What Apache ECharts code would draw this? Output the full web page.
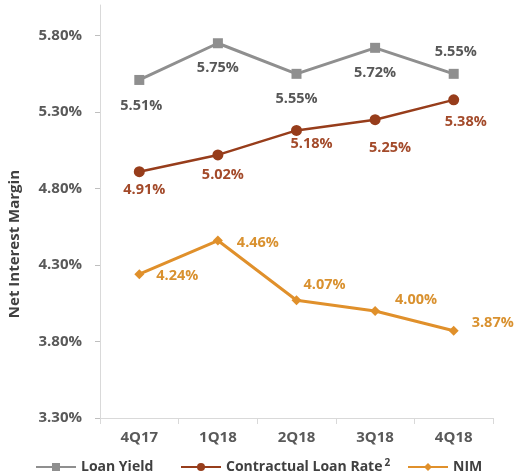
<!DOCTYPE html>
<html><head><meta charset="utf-8">
<script src="https://cdn.jsdelivr.net/npm/echarts@6/dist/echarts.min.js"></script>
<style>html,body{margin:0;padding:0;background:#fff}#c{width:514px;height:476px}</style>
</head><body><div id="c"></div>
<script>
var categories = ['4Q17', '1Q18', '2Q18', '3Q18', '4Q18'];
var loanYield = [5.51, 5.75, 5.55, 5.72, 5.55];
var contractualRate = [4.91, 5.02, 5.18, 5.25, 5.38];
var nim = [4.24, 4.46, 4.07, 4.00, 3.87];
var yTicks = [3.30, 3.80, 4.30, 4.80, 5.30, 5.80];
var seriesNames = ['Loan Yield', 'Contractual Loan Rate', 'NIM'];
var legendSup = ['\u00a0', '2', '\u00a0'];

var FONT = '"Open Sans", "Liberation Sans", sans-serif';
var lyOff = [[2,26],[0,25],[0,25],[0,25],[2,-22]];
var crOff = [[5,18],[5,20],[15,13],[15,28],[12,22]];
var nimOff = [[38,2],[40,2],[28,-15],[41,-11],[39,-8]];
var legendLefts = [35, 180, 407];

function build(vals, offs) {
  return vals.map(function (v, i) {
    return { value: v, label: { offset: offs[i] } };
  });
}
function fmt(p) { return p.value.toFixed(2) + '%'; }

var legendText = {
  rich: {
    t: { fontFamily: FONT, fontWeight: 'bold', fontSize: 14, color: '#404040', lineHeight: 18 },
    s: { fontFamily: FONT, fontWeight: 'bold', fontSize: 10, color: '#404040', verticalAlign: 'top', lineHeight: 6, padding: [0, 0, 12, 2] }
  }
};
var legends = seriesNames.map(function (n, i) {
  return {
    left: legendLefts[i], top: 458, padding: 0, itemWidth: 40, itemHeight: 10,
    data: [n],
    formatter: function (name) {
      return '{t|' + name + '}{s|' + legendSup[i] + '}';
    },
    textStyle: legendText
  };
});

var chart = echarts.init(document.getElementById('c'), null, {renderer: 'canvas'});
chart.setOption({
  animation: false,
  backgroundColor: '#fff',
  grid: { left: 100, right: 21, top: 5, bottom: 58 },
  graphic: [{
    type: 'text', left: 7, top: 170, rotation: Math.PI / 2,
    style: { text: 'Net Interest Margin', fill: '#404040', font: 'bold 15px ' + FONT }
  }],
  xAxis: {
    type: 'category', data: categories, boundaryGap: true,
    axisLine: { lineStyle: { color: '#d9d9d9', width: 1 } },
    axisTick: { show: true, length: 6, lineStyle: { color: '#d9d9d9' } },
    axisLabel: { color: '#595959', fontFamily: FONT, fontWeight: 'bold', fontSize: 15, margin: 12 }
  },
  yAxis: {
    type: 'value', min: 3.3, max: 6.0, interval: 0.5,
    splitLine: { show: false },
    axisLine: { show: true, lineStyle: { color: '#d9d9d9', width: 1 } },
    axisTick: { show: true, length: 5, customValues: yTicks, lineStyle: { color: '#bfbfbf' } },
    axisLabel: {
      customValues: yTicks,
      color: '#595959', fontFamily: FONT, fontWeight: 'bold', fontSize: 15, margin: 18,
      formatter: function (v) { return v.toFixed(2) + '%'; }
    }
  },
  legend: legends,
  series: [
    {
      name: seriesNames[0], type: 'line', data: build(loanYield, lyOff),
      symbol: 'rect', symbolSize: 10,
      lineStyle: { color: '#8f8f8f', width: 3 }, itemStyle: { color: '#8f8f8f' },
      label: { show: true, position: 'inside', formatter: fmt, color: '#575757', fontFamily: FONT, fontWeight: 'bold', fontSize: 14.5 }
    },
    {
      name: seriesNames[1], type: 'line', data: build(contractualRate, crOff),
      symbol: 'circle', symbolSize: 11,
      lineStyle: { color: '#973d1b', width: 2.5 }, itemStyle: { color: '#973d1b' },
      label: { show: true, position: 'inside', formatter: fmt, color: '#a34a2a', fontFamily: FONT, fontWeight: 'bold', fontSize: 14.5 }
    },
    {
      name: seriesNames[2], type: 'line', data: build(nim, nimOff),
      symbol: 'diamond', symbolSize: 10,
      lineStyle: { color: '#e0902b', width: 3 }, itemStyle: { color: '#e0902b' },
      label: { show: true, position: 'inside', formatter: fmt, color: '#d9912f', fontFamily: FONT, fontWeight: 'bold', fontSize: 14.5 }
    }
  ]
});
</script></body></html>
